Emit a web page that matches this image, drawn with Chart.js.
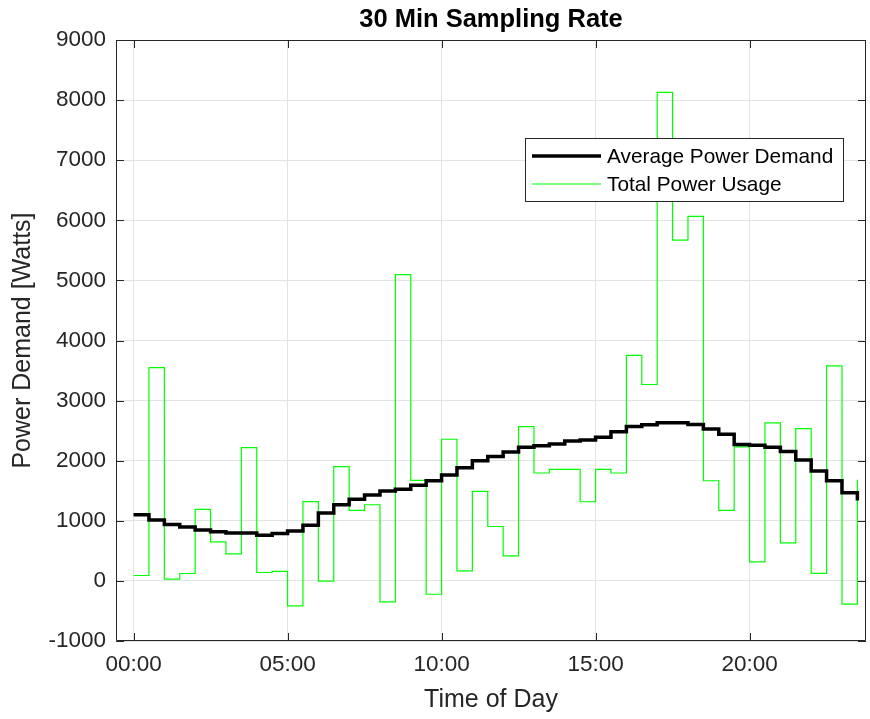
<!DOCTYPE html>
<html>
<head>
<meta charset="utf-8">
<title>30 Min Sampling Rate</title>
<script src="https://cdn.jsdelivr.net/npm/chart.js@4.4.1/dist/chart.umd.min.js"></script>
<style>
  html, body { margin: 0; padding: 0; background: #fff; }
  #wrap { width: 870px; height: 719px; }
</style>
</head>
<body>
<div id="wrap"><canvas id="miGrafico" width="870" height="719"></canvas></div>
<script>
// hora del dia (inicio de cada intervalo de 30 min)
const horas = [0, 0.5, 1, 1.5, 2, 2.5, 3, 3.5, 4, 4.5, 5, 5.5, 6, 6.5, 7, 7.5,
    8, 8.5, 9, 9.5, 10, 10.5, 11, 11.5, 12, 12.5, 13, 13.5, 14, 14.5, 15, 15.5,
    16, 16.5, 17, 17.5, 18, 18.5, 19, 19.5, 20, 20.5, 21, 21.5, 22, 22.5, 23, 23.5];

// demanda promedio [W]
const demandaPromedio = [1100, 1012, 940, 895, 845, 817, 795, 795, 760, 790, 830, 928,
    1128, 1267, 1357, 1428, 1495, 1523, 1590, 1667, 1762, 1883, 2000, 2070,
    2145, 2222, 2250, 2278, 2328, 2345, 2390, 2480, 2570, 2600, 2631, 2631,
    2602, 2527, 2441, 2269, 2257, 2223, 2154, 2010, 1827, 1666, 1465, 1338];

// consumo total [W]
const consumoTotal = [90, 3550, 28, 123, 1190, 650, 450, 2217, 140, 157, -417, 1320,
    -5, 1900, 1173, 1267, -350, 5095, 1673, -222, 2357, 167, 1490, 905,
    417, 2567, 1795, 1857, 1857, 1317, 1857, 1795, 3751, 3268, 8128, 5669,
    6065, 1666, 1172, 2229, 316, 2631, 632, 2533, 126, 3578, -385, 1683];

const ticksX = [0, 5, 10, 15, 20];
const etiquetasX = ['00:00', '05:00', '10:00', '15:00', '20:00'];
const ticksY = [-1000, 0, 1000, 2000, 3000, 4000, 5000, 6000, 7000, 8000, 9000];

const colorEjes = '#262626';
const fuente = "'Liberation Sans', Arial, Helvetica, sans-serif";

// marco tipo matlab con ticks hacia adentro + leyenda dentro del grafico
const marcoPlugin = {
    id: 'marco',
    afterDatasetsDraw(chart) {
        const ctx = chart.ctx;
        const a = chart.chartArea;
        const sx = chart.scales.x, sy = chart.scales.y;
        ctx.save();
        ctx.strokeStyle = colorEjes;
        ctx.lineWidth = 1;
        ctx.beginPath();
        ctx.rect(a.left + 0.5, a.top + 0.5, a.right - a.left - 1, a.bottom - a.top - 1);
        ctx.stroke();
        const largo = 8;
        ctx.beginPath();
        ticksX.forEach(v => {
            const px = Math.round(sx.getPixelForValue(v)) + 0.5;
            ctx.moveTo(px, a.bottom); ctx.lineTo(px, a.bottom - largo);
            ctx.moveTo(px, a.top); ctx.lineTo(px, a.top + largo);
        });
        ticksY.forEach(v => {
            const py = Math.round(sy.getPixelForValue(v)) + 0.5;
            ctx.moveTo(a.left, py); ctx.lineTo(a.left + largo, py);
            ctx.moveTo(a.right, py); ctx.lineTo(a.right - largo, py);
        });
        ctx.stroke();

        // leyenda
        const lx = 525, ly = 138, lw = 318, lh = 63;
        ctx.fillStyle = '#ffffff';
        ctx.fillRect(lx, ly, lw, lh);
        ctx.strokeStyle = colorEjes;
        ctx.strokeRect(lx + 0.5, ly + 0.5, lw, lh);
        ctx.font = '20.8px ' + fuente;
        ctx.textBaseline = 'middle';
        ctx.textAlign = 'left';
        chart.data.datasets.forEach((ds, i) => {
            const y = ly + 18 + i * 28;
            ctx.strokeStyle = ds.borderColor;
            ctx.lineWidth = ds.borderWidth;
            ctx.beginPath();
            ctx.moveTo(lx + 7, y); ctx.lineTo(lx + 76, y);
            ctx.stroke();
            ctx.fillStyle = '#000000';
            ctx.fillText(ds.label, lx + 82, y + 1);
        });
        ctx.restore();
    }
};

function crearGrafico() {
    const puntosPromedio = horas.map((h, i) => ({ x: h, y: demandaPromedio[i] }));
    const puntosTotal = horas.map((h, i) => ({ x: h, y: consumoTotal[i] }));

    const ctx = document.getElementById('miGrafico').getContext('2d');
    new Chart(ctx, {
        type: 'line',
        data: {
            datasets: [{
                label: 'Average Power Demand',
                data: puntosPromedio,
                borderColor: '#000000',
                borderWidth: 3.5,
                stepped: 'before',
                pointRadius: 0,
                fill: false
            }, {
                label: 'Total Power Usage',
                data: puntosTotal,
                borderColor: '#00ff00',
                borderWidth: 1.2,
                stepped: 'before',
                pointRadius: 0,
                fill: false
            }]
        },
        options: {
            responsive: false,
            animation: false,
            layout: { padding: { left: 0, right: 4, top: 0, bottom: 0 } },
            plugins: {
                legend: { display: false },
                tooltip: { enabled: false },
                title: {
                    display: true,
                    fullSize: false,
                    text: '30 Min Sampling Rate',
                    color: '#000000',
                    font: { family: fuente, size: 25.5, weight: 'bold', lineHeight: 1.2 },
                    padding: { top: 5, bottom: 4.4 }
                }
            },
            scales: {
                x: {
                    type: 'linear',
                    min: -0.57,
                    max: 23.78,
                    afterBuildTicks: (scale) => { scale.ticks = ticksX.map(v => ({ value: v })); },
                    afterFit: (scale) => { scale.height = 78; },
                    grid: { color: '#e3e3e3', drawTicks: false },
                    border: { display: false },
                    ticks: {
                        color: colorEjes,
                        font: { family: fuente, size: 22.5 },
                        padding: 10,
                        maxRotation: 0,
                        callback: (v) => etiquetasX[ticksX.indexOf(v)]
                    },
                    title: {
                        display: true,
                        text: 'Time of Day',
                        color: colorEjes,
                        font: { family: fuente, size: 25, lineHeight: 1.2 },
                        padding: { top: 0, bottom: 4 }
                    }
                },
                y: {
                    min: -1000,
                    max: 9000,
                    afterBuildTicks: (scale) => { scale.ticks = ticksY.map(v => ({ value: v })); },
                    afterFit: (scale) => { scale.width = 116; },
                    grid: { color: '#e3e3e3', drawTicks: false },
                    border: { display: false },
                    ticks: {
                        color: colorEjes,
                        font: { family: fuente, size: 22.5 },
                        padding: 10,
                        callback: (v) => String(v)
                    },
                    title: {
                        display: true,
                        text: 'Power Demand [Watts]',
                        color: colorEjes,
                        font: { family: fuente, size: 25, lineHeight: 1.2 },
                        padding: { top: 8, bottom: 0 }
                    }
                }
            }
        },
        plugins: [marcoPlugin]
    });
}

crearGrafico();
</script>
</body>
</html>
